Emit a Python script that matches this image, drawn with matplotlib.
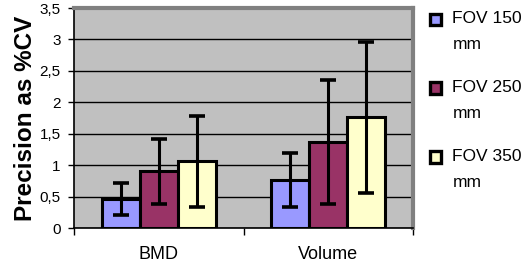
import matplotlib
matplotlib.use("Agg")
import matplotlib.pyplot as plt
from matplotlib.patches import Rectangle
from matplotlib.legend_handler import HandlerPatch
import numpy as np

categories = ["BMD", "Volume"]
series = ["FOV 150\nmm", "FOV 250\nmm", "FOV 350\nmm"]
values = {
    "FOV 150\nmm": [0.46, 0.77],
    "FOV 250\nmm": [0.90, 1.37],
    "FOV 350\nmm": [1.06, 1.76],
}
errors = {
    "FOV 150\nmm": [0.25, 0.43],
    "FOV 250\nmm": [0.52, 0.99],
    "FOV 350\nmm": [0.72, 1.20],
}
colors = ["#9999FF", "#993366", "#FFFFCC"]
yticks = [0, 0.5, 1, 1.5, 2, 2.5, 3, 3.5]
yticklabels = ["0", "0,5", "1", "1,5", "2", "2,5", "3", "3,5"]

plt.rcParams["font.family"] = ["Liberation Sans", "DejaVu Sans"]

fig = plt.figure(figsize=(5.26, 2.62), dpi=100)
ax = fig.add_axes([74/526, 34/262, 339/526, 220/262])
ax.set_facecolor("#C0C0C0")

x = np.arange(len(categories))
w = 38/170
handles = []
for i, s in enumerate(series):
    b = ax.bar(x + (i - 1) * w, values[s], w, color=colors[i], edgecolor="black",
               linewidth=2.2, zorder=3, label=s)
    ax.errorbar(x + (i - 1) * w, values[s], yerr=errors[s], fmt="none",
                ecolor="black", elinewidth=2.2, capsize=6, capthick=2.6, zorder=4)
    handles.append(b.patches[0])

ax.set_xlim(-0.5, 1.5)
ax.set_ylim(0, 3.5)
ax.set_yticks(yticks)
ax.set_yticklabels(yticklabels, fontsize=11)
ax.yaxis.grid(True, color="black", linewidth=1.0, zorder=1)
ax.set_axisbelow(True)

ax.set_xticks(x)
ax.set_xticklabels(categories, fontsize=13)
ax.tick_params(axis="x", which="major", length=0, pad=13)
ax.set_xticks([-0.5, 0.5, 1.5], minor=True)
ax.tick_params(axis="x", which="minor", length=5, width=1, direction="out")
ax.tick_params(axis="y", length=4.5, width=1, direction="out", pad=5)

for side in ["left", "bottom"]:
    ax.spines[side].set_color("black")
    ax.spines[side].set_linewidth(1.2)
for side in ["top", "right"]:
    ax.spines[side].set_color("#808080")
    ax.spines[side].set_linewidth(3)

ax.set_ylabel("Precision as %CV", fontsize=17.5, fontweight="bold", labelpad=2)

FS = 12.5
LS = 1.95
DY = 8.8


def top_square(legend, orig_handle, xdescent, ydescent, width, height, fontsize):
    return Rectangle((-xdescent, -ydescent + DY), width, height)


leg = fig.legend(handles=handles, labels=series, loc="upper left",
                 bbox_to_anchor=(430/526, 1 - 11/262), frameon=False, fontsize=FS,
                 handlelength=0.64, handleheight=0.64, handletextpad=0.65,
                 labelspacing=1.58, borderpad=0, borderaxespad=0,
                 handler_map={Rectangle: HandlerPatch(patch_func=top_square)})
for t in leg.get_texts():
    t.set_linespacing(LS)
for p in leg.get_patches():
    p.set_linewidth(2.4)
    p.set_edgecolor("black")

fig.savefig("out.png", dpi=100)
